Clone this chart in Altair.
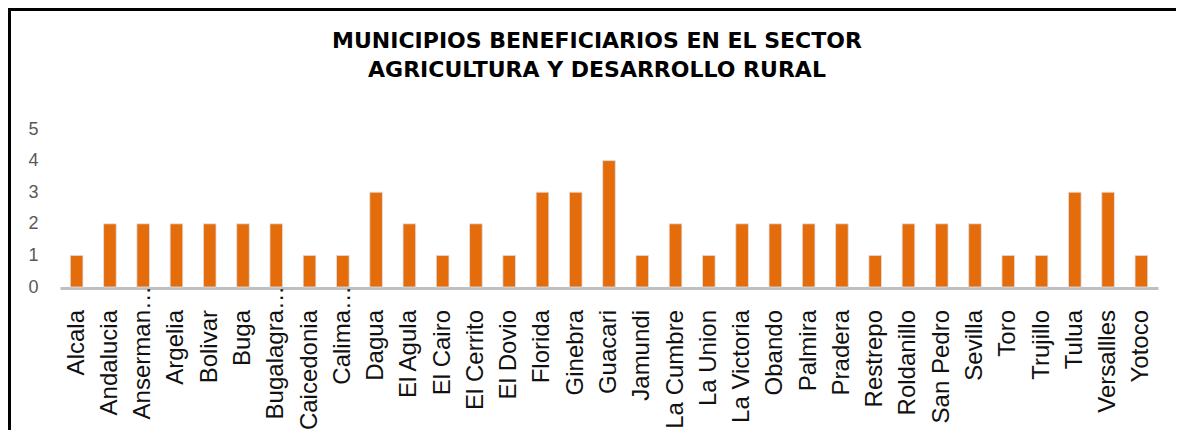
import altair as alt
import pandas as pd

municipios = [
    "Alcala", "Andalucia", "Anserman…", "Argelia", "Bolivar", "Buga",
    "Bugalagra…", "Caicedonia", "Calima…", "Dagua", "El Agula", "El Cairo",
    "El Cerrito", "El Dovio", "Florida", "Ginebra", "Guacari", "Jamundi",
    "La Cumbre", "La Union", "La Victoria", "Obando", "Palmira", "Pradera",
    "Restrepo", "Roldanillo", "San Pedro", "Sevilla", "Toro", "Trujillo",
    "Tulua", "Versallles", "Yotoco",
]
valores = [
    1, 2, 2, 2, 2, 2,
    2, 1, 1, 3, 2, 1,
    2, 1, 3, 3, 4, 1,
    2, 1, 2, 2, 2, 2,
    1, 2, 2, 2, 1, 1,
    3, 3, 1,
]
titulo = ["MUNICIPIOS BENEFICIARIOS EN EL SECTOR", "AGRICULTURA Y DESARROLLO RURAL"]

df = pd.DataFrame({"municipio": municipios, "valor": valores})
df["cortado"] = df["municipio"].str.endswith("…")

W, H = 1098, 158
LABEL_SIZE = 24

xenc = alt.X(
    "municipio:N", sort=municipios, title=None,
    scale=alt.Scale(paddingInner=0.62, paddingOuter=0.31),
    axis=alt.Axis(
        labels=False, ticks=False, domainColor="#BFBFBF", domainWidth=3, offset=1,
    ),
)

bars = alt.Chart(df).mark_bar(
    color="#E46C0A", stroke="#dde3ee", strokeWidth=0.8
).encode(
    x=xenc,
    y=alt.Y(
        "valor:Q", title=None,
        scale=alt.Scale(domain=[0, 5], nice=False),
        axis=alt.Axis(
            values=[0, 1, 2, 3, 4, 5], grid=False, ticks=False, domain=False,
            labelFontSize=18, labelColor="#595959", labelFont="Liberation Sans",
            labelPadding=22,
        ),
    ),
)

label_style = dict(angle=270, align="right", baseline="middle",
                   fontSize=LABEL_SIZE, font="Liberation Sans", color="#111111")

labels = alt.Chart(df).transform_filter("!datum.cortado").mark_text(**label_style).encode(
    x=alt.X("municipio:N", sort=municipios),
    y=alt.value(H + 23),
    text="municipio:N",
)

labels_cut = alt.Chart(df).transform_filter("datum.cortado").mark_text(**label_style).encode(
    x=alt.X("municipio:N", sort=municipios),
    y=alt.value(H + 23 - LABEL_SIZE),
    text="municipio:N",
)

border = alt.Chart(alt.Data(values=[{"k": 1}])).mark_rect(
    filled=False, stroke="black", strokeWidth=3
).encode(
    x=alt.value(-50.5), x2=alt.value(W + 200),
    y=alt.value(-119.5), y2=alt.value(H + 400),
)

title_style = dict(fontSize=22, fontWeight="bold", font="DejaVu Sans",
                   color="black", align="center", baseline="alphabetic")

title1 = alt.Chart(alt.Data(values=[{"t": titulo[0]}])).mark_text(**title_style).encode(
    x=alt.value(W / 2 - 12), y=alt.value(-81), text="t:N",
)
title2 = alt.Chart(alt.Data(values=[{"t": titulo[1]}])).mark_text(**title_style).encode(
    x=alt.value(W / 2 - 12), y=alt.value(-52), text="t:N",
)

chart = alt.layer(border, bars, labels, labels_cut, title1, title2).properties(
    width=W, height=H,
    padding={"left": 52, "top": 121, "right": 18, "bottom": 143},
    autosize=alt.AutoSizeParams(type="none"),
).configure_view(stroke=None)

chart.save("out.html", embed_options={"renderer": "svg", "actions": False})
